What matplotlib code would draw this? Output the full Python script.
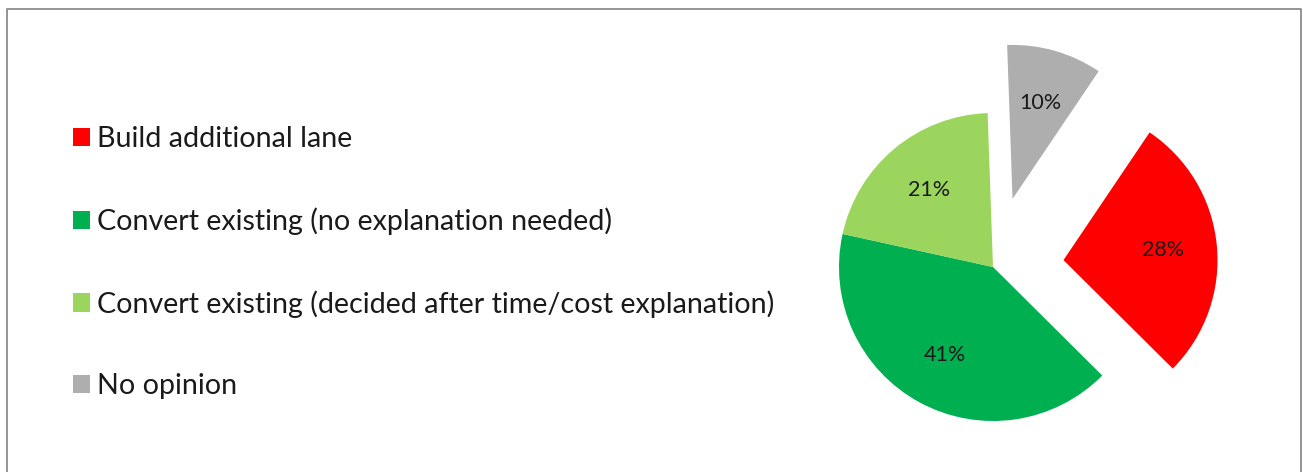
import matplotlib.pyplot as plt
from matplotlib.lines import Line2D

# Survey answers
labels = ['Build additional lane',
          'Convert existing (no explanation needed)',
          'Convert existing (decided after time/cost explanation)',
          'No opinion']
shares = [28, 41, 21, 10]
colors = ['#FF0000', '#00B050', '#9BD55E', '#AEAEAE']
explode = [0.46, 0, 0, 0.46]

plt.rcParams['font.family'] = ['Lato', 'DejaVu Sans']
text_color = '#1a1a1a'

W, H = 1303, 472
fig = plt.figure(figsize=(W / 100, H / 100), dpi=100)

# Pie axes: centre at (993, 267) px, radius 154 px
cx, cy, r, half = 993, 267, 154, 240
ax = fig.add_axes([(cx - half) / W, (H - cy - half) / H, 2 * half / W, 2 * half / H])
wedges, texts, autotexts = ax.pie(
    shares, colors=colors, explode=explode, startangle=56, counterclock=False,
    autopct='%d%%', pctdistance=0.65,
    textprops={'fontsize': 15.5, 'color': text_color})
ax.set_xlim(-half / r, half / r)
ax.set_ylim(-half / r, half / r)
ax.set_aspect('equal')
ax.axis('off')

# Legend on the left
fig.legend(wedges, labels, loc='upper left', bbox_to_anchor=(73 / W, 1 - 126 / H),
           frameon=False, fontsize=20.6, labelcolor=text_color,
           handlelength=0.6, handleheight=0.6, handletextpad=0.24,
           labelspacing=1.93, borderpad=0, borderaxespad=0)

# Chart border (open at the bottom)
fig.add_artist(Line2D([6.5 / W, 6.5 / W, 1300.5 / W, 1300.5 / W],
                      [0, 1 - 8.5 / H, 1 - 8.5 / H, 0],
                      transform=fig.transFigure, color='#8c8c8c', linewidth=1.3))

fig.savefig('out.png', dpi=100)
